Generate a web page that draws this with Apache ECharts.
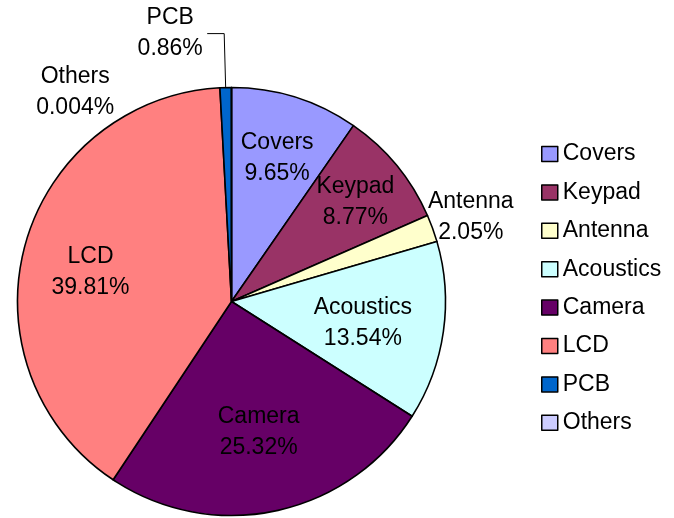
<!DOCTYPE html>
<html>
<head>
<meta charset="utf-8">
<script src="https://cdn.jsdelivr.net/npm/echarts@6/dist/echarts.min.js"></script>
<style>
  html, body { margin: 0; padding: 0; background: #fff; }
  #chart { width: 674px; height: 518px; }
</style>
</head>
<body>
<div id="chart"></div>
<script>
// Cost breakdown of handset components (percent share)
const categories = ['Covers', 'Keypad', 'Antenna', 'Acoustics', 'Camera', 'LCD', 'PCB', 'Others'];
const shares = [9.65, 8.77, 2.05, 13.54, 25.32, 39.81, 0.86, 0.004];
const colors = ['#9999FF', '#993366', '#FFFFCC', '#CCFFFF', '#660066', '#FF8080', '#0066CC', '#CCCCFF'];

// Pie geometry
const CX = 231.5, CY = 301.5, R = 214;
const FONT = '"Liberation Sans", Arial, sans-serif';
const TEXT_SHIFT_Y = 3; // nudges text blocks down onto the visual line centre

// Where each label sits: fraction of the radius, optional angle (deg, clockwise from top)
const labelPlacement = {
  Covers: { r: 0.715 },
  Keypad: { r: 0.75 },
  Antenna: { r: 1.19 },
  Acoustics: { r: 0.62 },
  Camera: { r: 0.61 },
  LCD: { r: 0.676, angle: -77 },
  Others: { r: 1.231, angle: -36.4 }
};

const total = shares.reduce((a, b) => a + b, 0);
const midAngles = [];
let acc = 0;
shares.forEach(v => { midAngles.push((acc + v / 2) / total * 360); acc += v; });

const pieData = categories.map((name, i) => {
  const item = { name: name, value: shares[i], itemStyle: { color: colors[i] } };
  if (name === 'PCB') {
    item.label = {
      position: 'outside',
      formatter: p => '{t|' + p.name + '}\n{t|' + p.value + '%}',
      rich: { t: { width: 68, align: 'center', fontSize: 23, lineHeight: 31, fontFamily: FONT, color: '#000' } },
      distanceToLabelLine: 3
    };
    item.labelLine = { show: true, length: 54, length2: 17, lineStyle: { color: '#000', width: 1 } };
  } else if (name === 'Antenna' || name === 'Others') {
    item.label = { position: 'outside' };
    item.labelLine = { show: false };
  }
  return item;
});

const chart = echarts.init(document.getElementById('chart'), null, { renderer: 'canvas' });
chart.setOption({
  animation: false,
  backgroundColor: '#ffffff',
  legend: {
    orient: 'vertical',
    left: 536,
    top: 137,
    itemWidth: 16,
    itemHeight: 15,
    itemGap: 14.4,
    icon: 'rect',
    data: categories,
    itemStyle: { borderColor: '#000', borderWidth: 1.5 },
    textStyle: { fontSize: 23, lineHeight: 24, color: '#000', fontFamily: FONT }
  },
  series: [{
    type: 'pie',
    center: [CX, CY],
    radius: [0, R],
    startAngle: 90,
    clockwise: true,
    avoidLabelOverlap: false,
    silent: true,
    itemStyle: { borderColor: '#000', borderWidth: 1.6 },
    label: {
      show: true,
      position: 'inside',
      formatter: p => p.name + '\n' + p.value + '%',
      fontSize: 23,
      lineHeight: 31,
      color: '#000',
      fontFamily: FONT
    },
    labelLine: { show: false },
    labelLayout: params => {
      const name = categories[params.dataIndex];
      const place = labelPlacement[name];
      if (!place) return {};
      const ang = (place.angle != null ? place.angle : midAngles[params.dataIndex]) * Math.PI / 180;
      return {
        x: CX + Math.sin(ang) * R * place.r,
        y: CY - Math.cos(ang) * R * place.r + TEXT_SHIFT_Y,
        align: 'center',
        verticalAlign: 'middle'
      };
    },
    data: pieData
  }]
});
</script>
</body>
</html>
